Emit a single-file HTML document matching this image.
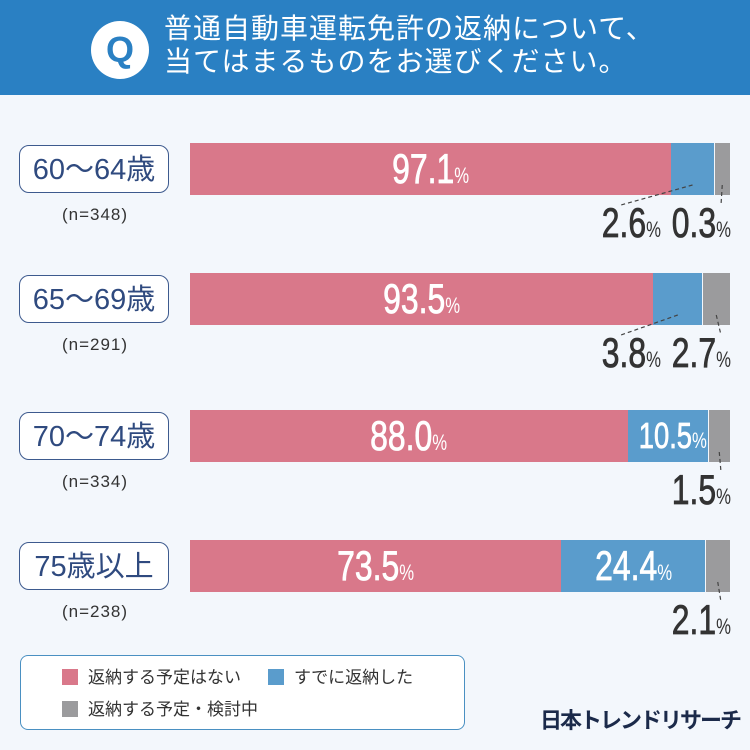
<!DOCTYPE html>
<html><head><meta charset="utf-8">
<style>
body{margin:0;width:750px;height:750px;overflow:hidden;background:#f3f7fc;font-family:"Liberation Sans","Noto Sans CJK JP",sans-serif;position:relative}
#hdr{position:absolute;left:0;top:0;width:750px;height:95px;background:#2a80c3}
#q{position:absolute;left:91px;top:21px;width:58px;height:58px;border-radius:50%;background:#fff;color:#2a80c3;font:bold 36px "Liberation Sans",sans-serif;text-align:center;line-height:58px}
#title{position:absolute;left:164px;top:12px;color:#fff;font-size:28px;line-height:33px;letter-spacing:1px}
.age{position:absolute;left:19px;width:150px;height:48px;border:1.5px solid #3d5a8e;border-radius:10px;background:#fff;color:#2f4a7f;font-size:29px;line-height:48px;text-align:center;box-sizing:border-box}
.n{position:absolute;left:20px;width:150px;text-align:center;color:#333;font-size:17px;letter-spacing:1px}
.seg{position:absolute;height:52px}
.lbl{position:absolute;font-size:42px;line-height:52px;white-space:nowrap;-webkit-text-stroke:0.8px currentColor}
.lbl span{display:inline-block;transform:scaleX(0.76)}
.lbl small{font-size:22px;-webkit-text-stroke:0}
#legend{position:absolute;left:20px;top:655px;width:445px;height:75px;border:1px solid #4a90c2;border-radius:8px;background:#fff;box-sizing:border-box}
.li{position:absolute;font-size:17px;color:#333;line-height:18px}
.sw{display:inline-block;width:16px;height:16px;vertical-align:-2px;margin-right:10px}
#logo{position:absolute;left:540px;top:703px;font-weight:bold;font-size:22px;color:#1b2a4a;letter-spacing:-2px;white-space:nowrap}
</style></head><body>
<div id="hdr">
<div id="q">Q</div>
<div id="title">普通自動車運転免許の返納について、<br>当てはまるものをお選びください。</div>
</div>
<div id="chart"></div>
<div id="legend">
<div class="li" style="left:41px;top:13px"><span class="sw" style="background:#d9788a"></span>返納する予定はない</div>
<div class="li" style="left:247px;top:13px"><span class="sw" style="background:#5a9ccc"></span>すでに返納した</div>
<div class="li" style="left:41px;top:45px"><span class="sw" style="background:#9b9b9d"></span>返納する予定・検討中</div>
</div>
<div id="logo">日本トレンドリサーチ</div>
<script>
const categories=["60〜64歳","65〜69歳","70〜74歳","75歳以上"];
const sampleSizes=["(n=348)","(n=291)","(n=334)","(n=238)"];
const noPlan=[97.1,93.5,88.0,73.5];
const returned=[2.6,3.8,10.5,24.4];
const considering=[0.3,2.7,1.5,2.1];
const colors=["#d9788a","#5a9ccc","#9b9b9d"];
const X0=190,W=540,rowTop=[143,273,410,540];
const chart=document.getElementById('chart');
function widths(vals){const b=32+vals[1]*4.6;const g=14+vals[2]*5;return [W-b-g,b,g];}
function fmt(v){return v.toFixed(1)+'<small>%</small>';}
categories.forEach((c,i)=>{
 const y=rowTop[i];
 const a=document.createElement('div');a.className='age';a.style.top=(y+2)+'px';
 
 
 a.textContent=c;chart.appendChild(a);
 const n=document.createElement('div');n.className='n';n.style.top=(y+62)+'px';
 
 
 n.textContent=sampleSizes[i];chart.appendChild(n);
 const vals=[noPlan[i],returned[i],considering[i]];
 const ws=widths(vals);let x=X0;let outside=[];
 vals.forEach((v,k)=>{
  const s=document.createElement('div');s.className='seg';
  s.style.left=x+'px';s.style.top=y+'px';s.style.width=ws[k]+'px';s.style.background=colors[k];
  
  
  chart.appendChild(s);
  if(ws[k]>=75){
   const l=document.createElement('div');l.className='lbl';l.style.color='#fff';
   l.style.left=x+'px';l.style.top=y+'px';l.style.width=ws[k]+'px';l.style.textAlign='center';
   if(ws[k]<110)l.style.fontSize='36px';
   
   
   l.innerHTML='<span>'+fmt(v)+'</span>';chart.appendChild(l);
  } else outside.push({v,cx:x+ws[k]/2});
  x+=ws[k];
 });
 let right=731;
 for(let j=outside.length-1;j>=0;j--){
  const o=outside[j];
  const l=document.createElement('div');l.className='lbl';l.style.color='#333';
  l.style.right=(750-right)+'px';l.style.top=(y+54)+'px';
  
  
  l.innerHTML='<span style="transform-origin:right">'+fmt(o.v)+'</span>';chart.appendChild(l);
  const svg=document.createElementNS('http://www.w3.org/2000/svg','svg');
  
  
  svg.setAttribute('style','position:absolute;left:0;top:0;overflow:visible');
  svg.setAttribute('width','1');svg.setAttribute('height','1');
  svg.innerHTML='<line x1="'+o.cx+'" y1="'+(y+42)+'" x2="'+(j===outside.length-1?right-10:right-40)+'" y2="'+(y+62)+'" stroke="#444" stroke-width="1.2" stroke-dasharray="4,3"/>';
  chart.appendChild(svg);
  right-=70;
 }
});
</script>
</body></html>
